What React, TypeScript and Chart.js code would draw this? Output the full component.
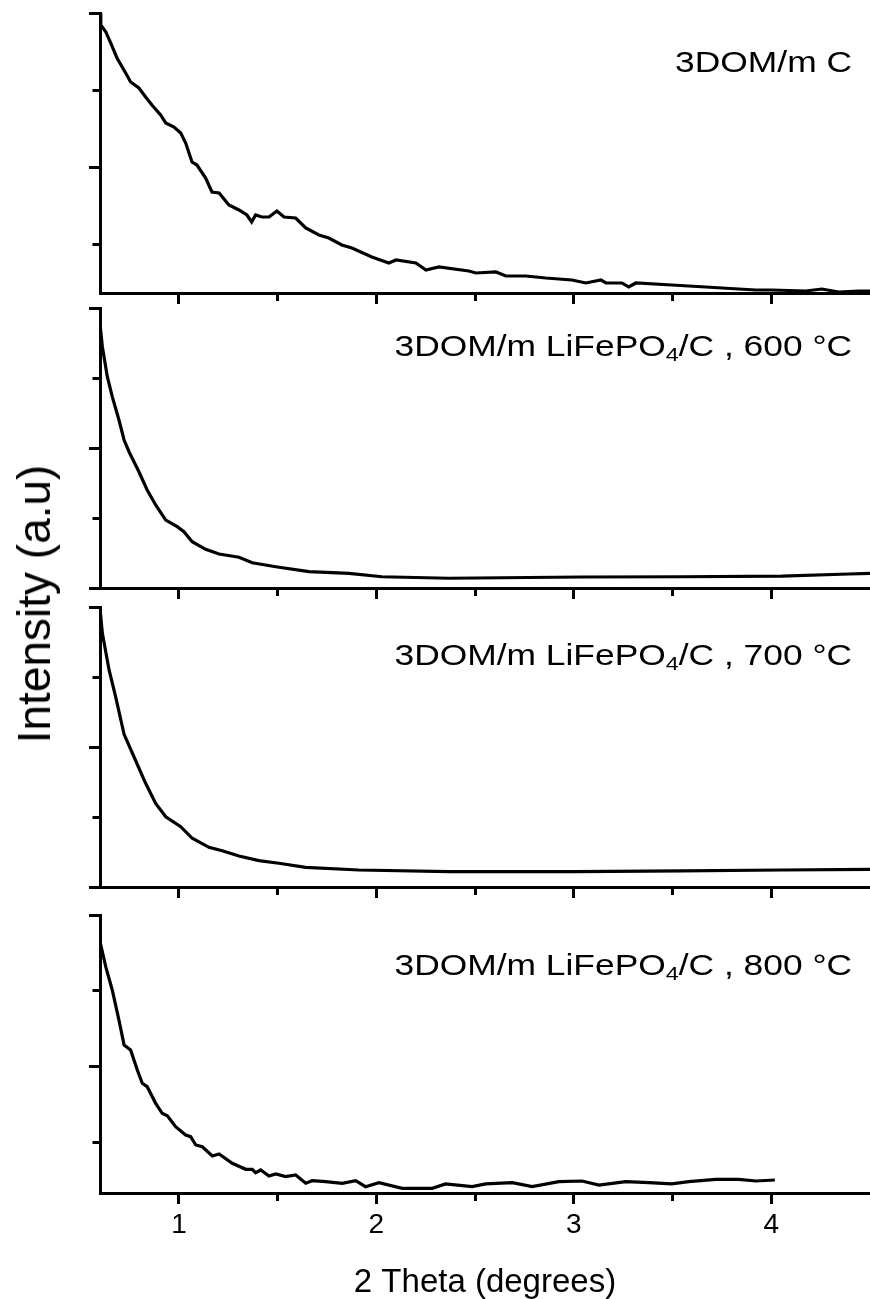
import React, { useEffect, useRef } from 'react';
import { Chart, registerables } from 'chart.js';

Chart.register(...registerables);

const FONT = "'Liberation Sans', Arial, Helvetica, sans-serif";

// ---- x axis (2 Theta, degrees) ----
const X_MIN = 0.6;
const X_MAX = 4.5;
const X_TICKS = [1, 1.5, 2, 2.5, 3, 3.5, 4];
const X_MAJOR = [1, 2, 3, 4];

// ---- panel labels ----
const LABELS = ['3DOM/m C', '3DOM/m LiFePO4/C , 600 °C', '3DOM/m LiFePO4/C , 700 °C', '3DOM/m LiFePO4/C , 800 °C'];

// ---- 3DOM/m C ----
const P1_X = [0.6, 0.604, 0.629, 0.654, 0.686, 0.73, 0.755, 0.797, 0.831, 0.863, 0.907, 0.933, 0.975, 1.009, 1.034, 1.066, 1.091, 1.135, 1.167, 1.203, 1.253, 1.304, 1.344, 1.368, 1.388, 1.42, 1.456, 1.496, 1.532, 1.591, 1.642, 1.709, 1.759, 1.825, 1.876, 1.977, 2.063, 2.099, 2.2, 2.251, 2.316, 2.468, 2.504, 2.605, 2.656, 2.757, 2.858, 2.99, 3.061, 3.137, 3.162, 3.243, 3.278, 3.314, 3.496, 3.582, 3.668, 3.835, 3.922, 4.003, 4.175, 4.256, 4.342, 4.443, 4.5];
const P1_Y = [4.0, 3.845, 3.757, 3.611, 3.416, 3.221, 3.104, 3.026, 2.909, 2.806, 2.676, 2.572, 2.52, 2.442, 2.312, 2.065, 2.026, 1.857, 1.676, 1.663, 1.507, 1.442, 1.377, 1.286, 1.377, 1.351, 1.351, 1.429, 1.351, 1.338, 1.208, 1.117, 1.078, 0.987, 0.948, 0.832, 0.754, 0.793, 0.754, 0.663, 0.702, 0.65, 0.624, 0.637, 0.585, 0.585, 0.559, 0.533, 0.494, 0.533, 0.494, 0.494, 0.442, 0.494, 0.468, 0.455, 0.442, 0.416, 0.403, 0.403, 0.39, 0.416, 0.377, 0.39, 0.39];
const P1_TICKS = [4, 3, 2, 1];
const P1_MAJOR = [4, 2];

// ---- LiFePO4/C 600 °C ----
const P2_X = [0.6, 0.612, 0.637, 0.662, 0.696, 0.722, 0.747, 0.797, 0.839, 0.882, 0.933, 0.991, 1.025, 1.067, 1.135, 1.203, 1.304, 1.371, 1.49, 1.658, 1.861, 2.028, 2.367, 3.04, 3.547, 4.053, 4.392, 4.5];
const P2_Y = [3.771, 3.447, 3.019, 2.733, 2.4, 2.114, 1.947, 1.661, 1.4, 1.186, 0.971, 0.876, 0.804, 0.661, 0.553, 0.486, 0.439, 0.361, 0.304, 0.233, 0.21, 0.161, 0.139, 0.157, 0.161, 0.171, 0.2, 0.21];
const P2_TICKS = [4, 3, 2, 1, 0];
const P2_MAJOR = [4, 2, 0];

// ---- LiFePO4/C 700 °C ----
const P3_X = [0.6, 0.612, 0.646, 0.679, 0.722, 0.772, 0.831, 0.882, 0.933, 1.009, 1.067, 1.152, 1.219, 1.304, 1.405, 1.506, 1.642, 1.911, 2.367, 3.01, 3.547, 4.053, 4.5];
const P3_Y = [3.981, 3.624, 3.1, 2.719, 2.181, 1.861, 1.481, 1.195, 1.004, 0.861, 0.696, 0.567, 0.519, 0.443, 0.376, 0.339, 0.281, 0.243, 0.219, 0.219, 0.229, 0.243, 0.253];
const P3_TICKS = [4, 3, 2, 1, 0];
const P3_MAJOR = [4, 2, 0];

// ---- LiFePO4/C 800 °C ----
const P4_X = [0.6, 0.629, 0.662, 0.696, 0.722, 0.755, 0.789, 0.814, 0.839, 0.882, 0.915, 0.941, 0.983, 1.034, 1.059, 1.085, 1.118, 1.169, 1.203, 1.27, 1.338, 1.371, 1.388, 1.414, 1.456, 1.49, 1.54, 1.591, 1.642, 1.675, 1.743, 1.827, 1.895, 1.945, 2.013, 2.131, 2.283, 2.35, 2.485, 2.553, 2.688, 2.789, 2.924, 3.042, 3.127, 3.263, 3.38, 3.496, 3.582, 3.719, 3.835, 3.922, 4.018];
const P4_Y = [3.649, 3.32, 3.013, 2.618, 2.289, 2.224, 1.961, 1.786, 1.741, 1.522, 1.391, 1.359, 1.214, 1.105, 1.083, 0.974, 0.951, 0.829, 0.855, 0.733, 0.654, 0.654, 0.609, 0.645, 0.566, 0.592, 0.557, 0.579, 0.47, 0.504, 0.491, 0.47, 0.504, 0.425, 0.478, 0.404, 0.404, 0.461, 0.425, 0.461, 0.478, 0.425, 0.491, 0.5, 0.447, 0.491, 0.478, 0.461, 0.491, 0.522, 0.522, 0.5, 0.513];
const P4_TICKS = [4, 3, 2, 1];
const P4_MAJOR = [4, 2];

const SERIES = [
  { x: P1_X, y: P1_Y, min: 0.364, max: 4, ticks: P1_TICKS, major: P1_MAJOR },
  { x: P2_X, y: P2_Y, min: 0, max: 4, ticks: P2_TICKS, major: P2_MAJOR },
  { x: P3_X, y: P3_Y, min: 0, max: 4, ticks: P3_TICKS, major: P3_MAJOR },
  { x: P4_X, y: P4_Y, min: 0.342, max: 4, ticks: P4_TICKS, major: P4_MAJOR },
];

// layout (pixels)
const W = 870;
const PLOT_LEFT = 100;
const PAD_TOP = 10;
const PANEL_BOX = [
  { top: 13, bottom: 293 },
  { top: 308, bottom: 588 },
  { top: 607, bottom: 887 },
  { top: 915, bottom: 1193 },
];
const AXIS_H = 14;
const AXIS_H_BOTTOM = 106;
const LABEL_CAP_CENTER = [62, 346, 655, 965];

function Panel({ idx }: { idx: number }) {
  const ref = useRef<HTMLCanvasElement | null>(null);
  const s = SERIES[idx];
  const box = PANEL_BOX[idx];
  const isBottom = idx === SERIES.length - 1;
  const axisH = isBottom ? AXIS_H_BOTTOM : AXIS_H;
  const h = PAD_TOP + (box.bottom - box.top) + axisH;
  const top = box.top - PAD_TOP;

  useEffect(() => {
    if (!ref.current) return;
    const n = Math.min(s.x.length, s.y.length);
    const pts = [] as { x: number; y: number }[];
    for (let i = 0; i < n; i++) pts.push({ x: s.x[i], y: s.y[i] });
    const chart = new Chart(ref.current, {
      type: 'line',
      data: {
        datasets: [
          {
            data: pts,
            borderColor: '#000',
            borderWidth: 3.2,
            pointRadius: 0,
            tension: 0,
            fill: false,
          },
        ],
      },
      options: {
        animation: false,
        responsive: false,
        maintainAspectRatio: false,
        events: [],
        layout: { padding: { top: PAD_TOP, left: 0, right: 0, bottom: 0 } },
        plugins: { legend: { display: false }, tooltip: { enabled: false }, title: { display: false } },
        scales: {
          x: {
            type: 'linear',
            min: X_MIN,
            max: X_MAX,
            afterBuildTicks: (sc: any) => {
              sc.ticks = X_TICKS.map((v) => ({ value: v }));
            },
            afterFit: (sc: any) => {
              sc.height = axisH;
            },
            ticks: {
              display: isBottom,
              autoSkip: false,
              maxRotation: 0,
              padding: 4,
              color: '#000',
              font: { family: FONT, size: 28 },
              callback: (v: any) => (X_MAJOR.includes(Number(v)) ? String(v) : ''),
            },
            grid: {
              drawOnChartArea: false,
              drawTicks: true,
              tickLength: 11,
              tickWidth: 3,
              tickColor: '#000',
              tickBorderDash: (c: any) => (c.tick && X_MAJOR.includes(c.tick.value) ? [] : [6, 100]),
            },
            border: { display: true, width: 3, color: '#000' },
            title: {
              display: isBottom,
              text: '2 Theta (degrees)',
              color: '#000',
              font: { family: FONT, size: 33, lineHeight: 1.0 },
              padding: { top: 0, bottom: 0 },
            },
          },
          y: {
            type: 'linear',
            min: s.min,
            max: s.max,
            afterBuildTicks: (sc: any) => {
              sc.ticks = s.ticks.map((v) => ({ value: v }));
            },
            afterFit: (sc: any) => {
              sc.width = PLOT_LEFT;
            },
            ticks: { display: false },
            grid: {
              drawOnChartArea: false,
              drawTicks: true,
              tickLength: 11,
              tickWidth: 3,
              tickColor: '#000',
              tickBorderDash: (c: any) => (c.tick && s.major.includes(c.tick.value) ? [] : [0, 3.5, 30, 0]),
            },
            border: { display: true, width: 3, color: '#000' },
          },
        },
      } as any,
    });
    return () => chart.destroy();
  }, []);

  return (
    <canvas
      ref={ref}
      width={W}
      height={h}
      style={{ position: 'absolute', left: 0, top, width: W, height: h, display: 'block' }}
    />
  );
}

function PanelLabel({ idx }: { idx: number }) {
  const text = LABELS[idx];
  const size = 29;
  const lh = 34;
  const topPx = LABEL_CAP_CENTER[idx] - 16.6;
  const parts = text.split('4/');
  return (
    <div
      style={{
        position: 'absolute',
        right: 18,
        top: topPx,
        fontFamily: FONT,
        fontSize: size,
        lineHeight: lh + 'px',
        color: '#000',
        whiteSpace: 'nowrap',
        transform: 'scaleX(1.22)',
        transformOrigin: 'right center',
      }}
    >
      {parts.length > 1 ? (
        <>
          {parts[0]}
          <span style={{ fontSize: '0.66em', position: 'relative', top: '0.25em', lineHeight: 0 }}>4</span>
          {'/' + parts[1]}
        </>
      ) : (
        text
      )}
    </div>
  );
}

export default function App() {
  return (
    <div style={{ position: 'absolute', left: 0, top: 0, width: W, height: 1299, background: '#fff', overflow: 'hidden' }}>
      {SERIES.map((_, i) => (
        <Panel key={'p' + i} idx={i} />
      ))}
      {SERIES.map((_, i) => (
        <PanelLabel key={'l' + i} idx={i} />
      ))}
      <div
        style={{
          position: 'absolute',
          left: 34,
          top: 604,
          fontFamily: FONT,
          fontSize: 46,
          color: '#000',
          whiteSpace: 'nowrap',
          lineHeight: '52px',
          transform: 'translate(-50%, -50%) rotate(-90deg)',
        }}
      >
        Intensity (a.u)
      </div>
    </div>
  );
}
